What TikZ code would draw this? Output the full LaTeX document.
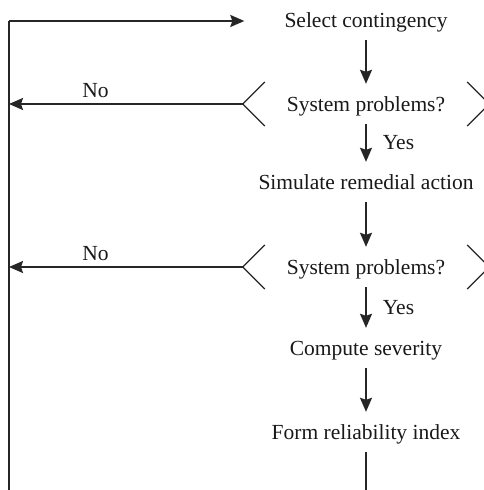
\documentclass[tikz,border=0pt]{standalone}
\usepackage{fontspec}
\setmainfont{Liberation Serif}
\usetikzlibrary{arrows.meta,calc}
\begin{document}
\begin{tikzpicture}[x=1pt,y=1pt,
  every node/.style={font=\fontsize{21.5}{25}\selectfont, text=black!90},
  box/.style={inner xsep=0pt, inner ysep=0pt, text height=20pt, text depth=4pt, minimum height=40pt},
  dec/.style={box, minimum width=246pt},
  ln/.style={line width=1.7pt, draw=black!85},
  arr/.style={ln, -{Stealth[length=14pt,width=12pt,inset=2pt]}},
  lbl/.style={inner sep=2pt, text height=14pt, text depth=4pt}
]
\clip (0,0) rectangle (484,490);
\fill[white] (0,0) rectangle (484,490);

\node[box] (sel)  at (366,470) {Select contingency};
\node[dec] (sp1)  at (366,386) {System problems?};
\node[box] (sim)  at (366,308) {Simulate remedial action};
\node[dec] (sp2)  at (366,223) {System problems?};
\node[box] (comp) at (366,142) {Compute severity};
\node[box] (form) at (366,58)  {Form reliability index};

\coordinate (top) at (9,469);
\coordinate (bot) at (9,0);
\coordinate (end) at (366,0);

% left loop line
\draw[ln] (bot) -- (top);
\draw[arr, shorten >=40pt] (top) -- (sel.west |- top);

% main flow
\draw[arr] (sel) -- (sp1);
\draw[arr] (sp1) -- node[lbl, right, xshift=14pt, yshift=-2pt] {Yes} (sim);
\draw[arr] (sim) -- (sp2);
\draw[arr] (sp2) -- node[lbl, right, xshift=14pt, yshift=-2pt] {Yes} (comp);
\draw[arr] (comp) -- (form);
\draw[ln] (form) -- (end);

% decision brackets and No branches
\foreach \d in {sp1,sp2}{
  \draw[ln, line width=1.3pt] ($(\d.west)+(22,22)$) -- (\d.west) -- ($(\d.west)+(22,-22)$);
  \draw[ln, line width=1.3pt] ($(\d.east)+(-22,22)$) -- (\d.east) -- ($(\d.east)+(-22,-22)$);
}
\draw[arr] (sp1.west) -- node[lbl, above, pos=0.63] {No} (sp1.west -| bot);
\draw[arr] (sp2.west) -- node[lbl, above, pos=0.63] {No} (sp2.west -| bot);
\end{tikzpicture}
\end{document}
